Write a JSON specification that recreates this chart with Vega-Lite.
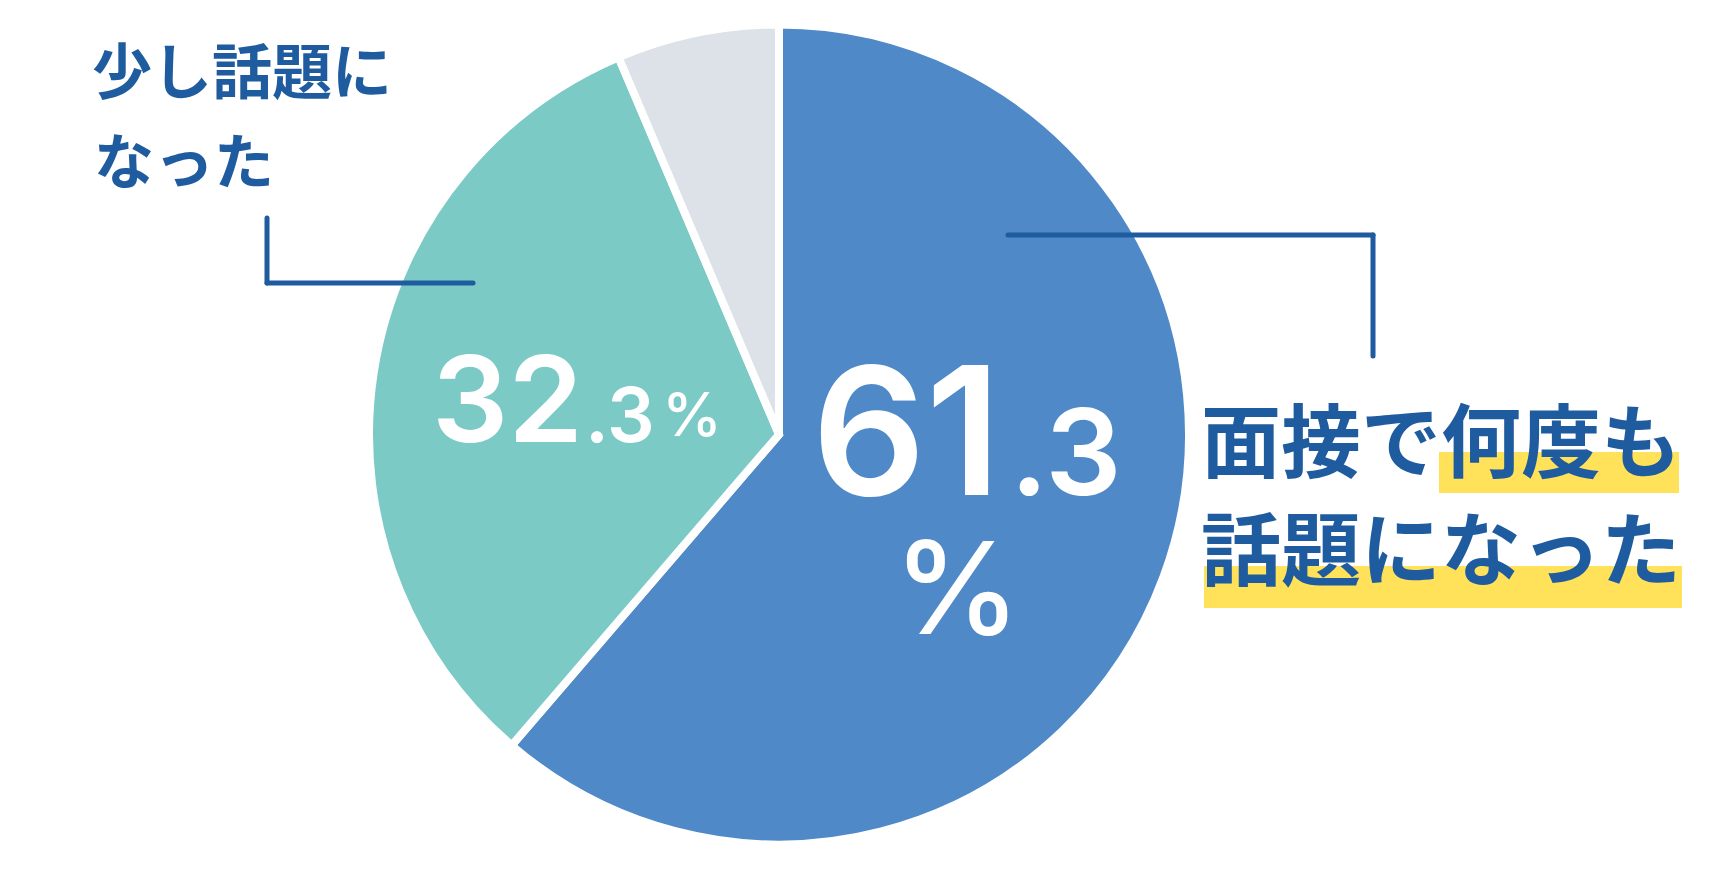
{
  "$schema": "https://vega.github.io/schema/vega-lite/v6.json",
  "width": 1558,
  "height": 869,
  "autosize": {"type": "none"},
  "padding": {"left": 0, "top": 0, "right": 158, "bottom": 1},
  "background": "white",
  "config": {"view": {"stroke": null}},
  "datasets": {
    "pie": [
      {"category": "面接で何度も話題になった", "value": 61.3, "order": 1},
      {"category": "少し話題になった", "value": 32.3, "order": 2},
      {"category": "その他", "value": 6.4, "order": 3}
    ],
    "big": [
      {"text": "61", "x": 1001, "y": 495, "size": 178},
      {"text": "32", "x": 583, "y": 442, "size": 120}
    ],
    "small": [
      {"text": ".3", "x": 1010, "y": 495, "size": 120},
      {"text": ".3", "x": 585, "y": 442, "size": 75}
    ],
    "pct": [
      {"text": "%", "x": 957, "y": 634, "size": 128},
      {"text": "%", "x": 692, "y": 436, "size": 60}
    ],
    "leaders": [
      {"x": 267, "y": 218, "x2": 267, "y2": 283},
      {"x": 267, "y": 283, "x2": 473, "y2": 283},
      {"x": 1008, "y": 235, "x2": 1373, "y2": 235},
      {"x": 1373, "y": 235, "x2": 1373, "y2": 356}
    ],
    "highlights": [
      {"x": 1439, "x2": 1679, "y": 452, "y2": 493},
      {"x": 1204, "x2": 1682, "y": 566, "y2": 608}
    ],
    "smallLabel": [
      {"text": "少し話題に", "x": 92, "y": 94},
      {"text": "なった", "x": 94, "y": 184}
    ],
    "bigLabel": [
      {"text": "面接で何度も", "x": 1201, "y": 471},
      {"text": "話題になった", "x": 1201, "y": 579}
    ]
  },
  "layer": [
    {
      "data": {"name": "pie"},
      "mark": {"type": "arc", "outerRadius": 410, "stroke": "white", "strokeWidth": 8, "strokeJoin": "miter"},
      "encoding": {
        "theta": {"field": "value", "type": "quantitative", "stack": true},
        "order": {"field": "order", "type": "quantitative"},
        "color": {
          "field": "category",
          "type": "nominal",
          "scale": {
            "domain": ["面接で何度も話題になった", "少し話題になった", "その他"],
            "range": ["#4F89C8", "#7CCAC6", "#DDE2E9"]
          },
          "legend": null
        }
      }
    },
    {
      "data": {"name": "highlights"},
      "mark": {"type": "rect", "color": "#FFE15A"},
      "encoding": {
        "x": {"field": "x", "type": "quantitative", "scale": {"domain": [0, 1558], "nice": false, "zero": false}, "axis": null},
        "x2": {"field": "x2"},
        "y": {"field": "y", "type": "quantitative", "scale": {"domain": [869, 0], "nice": false, "zero": false}, "axis": null},
        "y2": {"field": "y2"}
      }
    },
    {
      "data": {"name": "leaders"},
      "mark": {"type": "rule", "color": "#1F5B9F", "strokeWidth": 5, "strokeCap": "round"},
      "encoding": {
        "x": {"field": "x", "type": "quantitative"},
        "x2": {"field": "x2"},
        "y": {"field": "y", "type": "quantitative"},
        "y2": {"field": "y2"}
      }
    },
    {
      "data": {"name": "big"},
      "mark": {"type": "text", "color": "white", "font": "Inter", "fontWeight": 600, "align": "right", "baseline": "alphabetic"},
      "encoding": {
        "x": {"field": "x", "type": "quantitative"},
        "y": {"field": "y", "type": "quantitative"},
        "text": {"field": "text"},
        "size": {"field": "size", "type": "quantitative", "scale": null}
      }
    },
    {
      "data": {"name": "small"},
      "mark": {"type": "text", "color": "white", "font": "Inter", "fontWeight": 600, "align": "left", "baseline": "alphabetic"},
      "encoding": {
        "x": {"field": "x", "type": "quantitative"},
        "y": {"field": "y", "type": "quantitative"},
        "text": {"field": "text"},
        "size": {"field": "size", "type": "quantitative", "scale": null}
      }
    },
    {
      "data": {"name": "pct"},
      "mark": {"type": "text", "color": "white", "font": "Inter", "fontWeight": 500, "align": "center", "baseline": "alphabetic"},
      "encoding": {
        "x": {"field": "x", "type": "quantitative"},
        "y": {"field": "y", "type": "quantitative"},
        "text": {"field": "text"},
        "size": {"field": "size", "type": "quantitative", "scale": null}
      }
    },
    {
      "data": {"name": "smallLabel"},
      "mark": {"type": "text", "color": "#1F5B9F", "font": "Noto Sans CJK JP", "fontWeight": "bold", "fontSize": 60, "align": "left", "baseline": "alphabetic"},
      "encoding": {
        "x": {"field": "x", "type": "quantitative"},
        "y": {"field": "y", "type": "quantitative"},
        "text": {"field": "text"}
      }
    },
    {
      "data": {"name": "bigLabel"},
      "mark": {"type": "text", "color": "#1F5B9F", "font": "Noto Sans CJK JP", "fontWeight": "bold", "fontSize": 80, "align": "left", "baseline": "alphabetic"},
      "encoding": {
        "x": {"field": "x", "type": "quantitative"},
        "y": {"field": "y", "type": "quantitative"},
        "text": {"field": "text"}
      }
    }
  ]
}
